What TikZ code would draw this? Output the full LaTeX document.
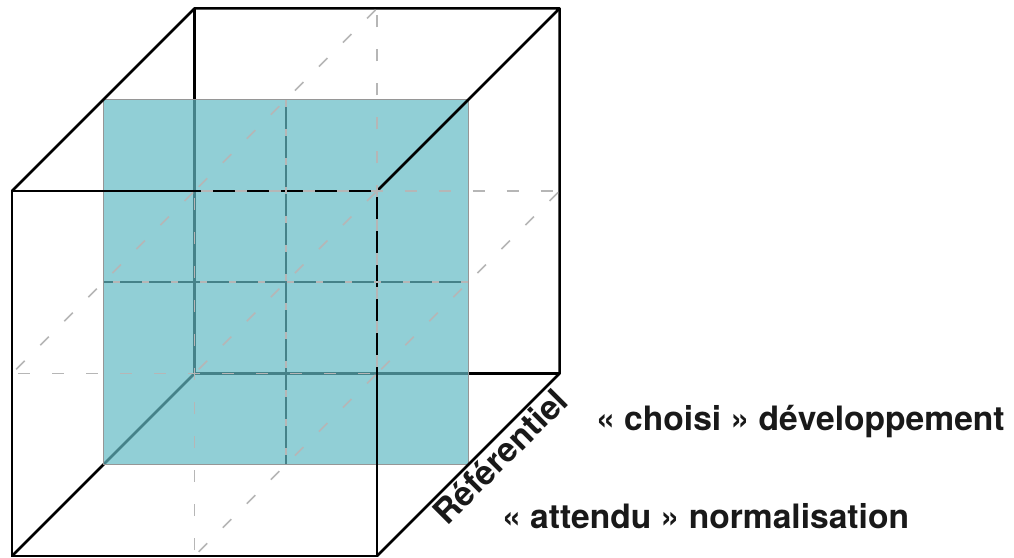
\documentclass[tikz,border=0pt]{standalone}
\usepackage{fontspec}
\setmainfont{TeX Gyre Heros}
\definecolor{tealC}{RGB}{99,186,196}
\definecolor{dashgray}{RGB}{182,182,182}
\definecolor{planeborder}{RGB}{150,150,150}
\begin{document}
\begin{tikzpicture}[x={(365pt,0pt)}, y={(0pt,365pt)}, z={(182.5pt,182.5pt)},
  edge/.style={line width=2.5pt, black, line cap=round, line join=round},
  gridsolid/.style={line width=2pt, black},
  midline/.style={line width=1.7pt, dashgray, dash pattern=on 12pt off 22pt, dash phase=-6pt},
  griddash/.style={line width=1.6pt, dashgray, dash pattern=on 7pt off 22pt, dash phase=-10pt},
  plane/.style={fill=tealC, fill opacity=0.7, draw=planeborder, draw opacity=1, line width=1.2pt},
  lab/.style={font=\bfseries\fontsize{33.6}{40}\selectfont, inner sep=0pt, text=black!90}]
\useasboundingbox (-12pt,-1pt) rectangle (1002pt,556pt);
\foreach \i in {0,1,2}{\foreach \j in {0,1,2}{\foreach \k in {0,1,2}{
  \coordinate (p\i\j\k) at (\i/2,\j/2,\k/2);}}}
% hidden edges (behind the plane)
\draw[edge] (p000) -- (p002);
\draw[edge] (p002) -- (p202);
\draw[edge] (p002) -- (p022);
% grid of the middle plane
\draw[gridsolid] (p101) -- (p121);
\draw[gridsolid] (p011) -- (p211);
% the plane
\filldraw[plane] (p001) -- (p201) -- (p221) -- (p021) -- cycle;
% visible edges
\draw[edge] (p000) -- (p200) -- (p220) -- (p020) -- cycle;
\draw[edge] (p020) -- (p022) -- (p222) -- (p220);
\draw[edge] (p222) -- (p202) -- (p200);
% dashed mid lines
\draw[midline] (p100) -- (p120);
\draw[midline] (p010) -- (p210);
\draw[midline] (p102) -- (p122);
\draw[midline] (p012) -- (p212);
\draw[midline] (p120) -- (p122);
\draw[midline] (p100) -- (p102);
\draw[midline] (p010) -- (p012);
\draw[midline] (p210) -- (p212);
\draw[midline] (p110) -- (p112);
\draw[griddash] (p101) -- (p121);
\draw[griddash] (p011) -- (p211);
% labels
\path (p200) -- (p202) node[lab, pos=0.61, sloped, below=3pt] (ref) {Référentiel};
\node[lab, anchor=base west] (t1) at (584pt,126pt) {« choisi » développement};
\node[lab, anchor=base west] (t2) at (490pt,28pt) {« attendu » normalisation};
\end{tikzpicture}
\end{document}
